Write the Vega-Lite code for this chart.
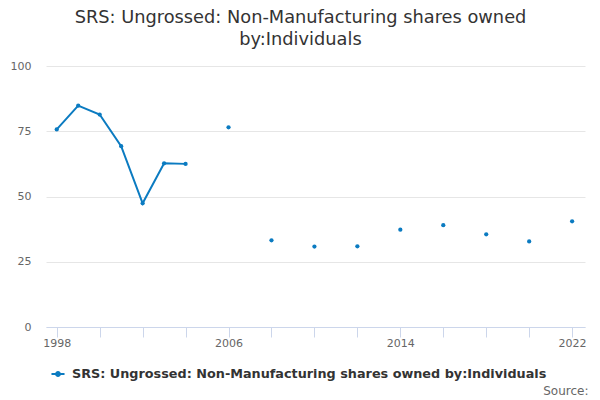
{
  "$schema": "https://vega.github.io/schema/vega-lite/v6.json",
  "width": 539,
  "height": 261,
  "autosize": {"type": "none"},
  "padding": {"left": 46, "top": 66, "right": 15, "bottom": 73},
  "background": "white",
  "config": {
    "font": "DejaVu Sans",
    "view": {"stroke": null}
  },
  "title": {
    "text": ["SRS: Ungrossed: Non-Manufacturing shares owned", "by:Individuals"],
    "font": "DejaVu Sans",
    "fontSize": 17.8,
    "fontWeight": "normal",
    "color": "#333333",
    "anchor": "middle",
    "dx": -15,
    "offset": 11,
    "lineHeight": 22
  },
  "data": {
    "values": [
      {"year": 1998, "value": 75.7},
      {"year": 1999, "value": 84.8},
      {"year": 2000, "value": 81.4},
      {"year": 2001, "value": 69.3},
      {"year": 2002, "value": 47.4},
      {"year": 2003, "value": 62.7},
      {"year": 2004, "value": 62.5},
      {"year": 2005, "value": null},
      {"year": 2006, "value": 76.5},
      {"year": 2007, "value": null},
      {"year": 2008, "value": 33.2},
      {"year": 2009, "value": null},
      {"year": 2010, "value": 30.8},
      {"year": 2011, "value": null},
      {"year": 2012, "value": 30.9},
      {"year": 2013, "value": null},
      {"year": 2014, "value": 37.3},
      {"year": 2015, "value": null},
      {"year": 2016, "value": 39.0},
      {"year": 2017, "value": null},
      {"year": 2018, "value": 35.5},
      {"year": 2019, "value": null},
      {"year": 2020, "value": 32.8},
      {"year": 2021, "value": null},
      {"year": 2022, "value": 40.5}
    ]
  },
  "encoding": {
    "x": {
      "field": "year",
      "type": "quantitative",
      "scale": {"domain": [1997.5, 2022.6], "nice": false, "zero": false},
      "axis": {
        "values": [1998, 2000, 2002, 2004, 2006, 2008, 2010, 2012, 2014, 2016, 2018, 2020, 2022],
        "labelExpr": "(datum.value - 1998) % 8 == 0 ? datum.value : ''",
        "format": "d",
        "grid": false,
        "domainColor": "#ccd6eb",
        "tickColor": "#ccd6eb",
        "tickSize": 10,
        "labelPadding": 0,
        "labelColor": "#666666",
        "labelFontSize": 11,
        "labelFlush": false,
        "labelOverlap": false,
        "title": "Source:",
        "titleAnchor": "end",
        "titleAlign": "right",
        "titleFontSize": 12,
        "titleFontWeight": "normal",
        "titleColor": "#666666",
        "titlePadding": 37,
        "titleX": 542
      }
    },
    "y": {
      "field": "value",
      "type": "quantitative",
      "scale": {"domain": [0, 100], "nice": false},
      "axis": {
        "values": [0, 25, 50, 75, 100],
        "domain": false,
        "ticks": false,
        "gridColor": "#e6e6e6",
        "labelColor": "#666666",
        "labelFontSize": 11,
        "labelPadding": 15,
        "title": null
      }
    },
    "color": {
      "datum": "SRS: Ungrossed: Non-Manufacturing shares owned by:Individuals",
      "type": "nominal",
      "scale": {"range": ["#0b7bc1"]},
      "legend": {
        "orient": "none",
        "legendX": 4,
        "legendY": 300,
        "direction": "horizontal",
        "title": null,
        "symbolType": "M-1,0H1M-0.3,0A0.3,0.3,0,1,1,0.3,0A0.3,0.3,0,1,1,-0.3,0Z",
        "symbolSize": 170,
        "symbolStrokeWidth": 2,
        "symbolFillColor": "#0b7bc1",
        "labelFontSize": 12.8,
        "labelFontWeight": "bold",
        "labelColor": "#333333",
        "labelLimit": 600,
        "labelOffset": 6
      }
    }
  },
  "layer": [
    {
      "mark": {"type": "line", "strokeWidth": 2, "invalid": "break-paths-filter-domains"}
    },
    {
      "mark": {"type": "point", "filled": true, "opacity": 1, "size": 18},
      "transform": [{"filter": "datum.value != null"}]
    }
  ]
}
